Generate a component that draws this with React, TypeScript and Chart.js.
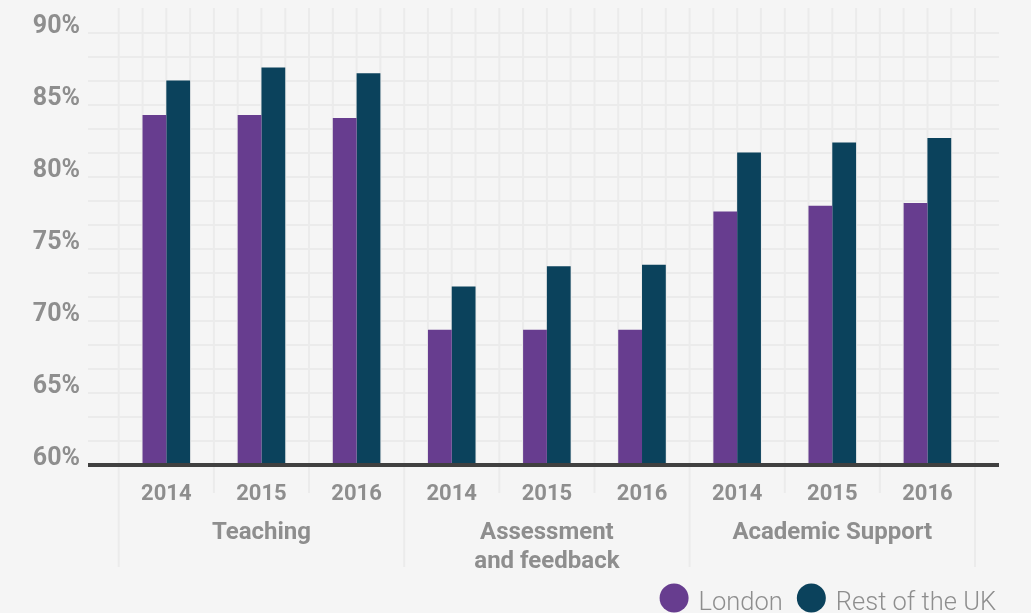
import React, { useEffect, useRef } from 'react';
import { Chart, registerables } from 'chart.js';

Chart.register(...registerables);

// ---- data ----
const years = ['2014', '2015', '2016', '2014', '2015', '2016', '2014', '2015', '2016'];
const groups: (string | string[])[] = ['Teaching', ['Assessment', 'and feedback'], 'Academic Support'];
const seriesNames = ['London', 'Rest of the UK'];
const london = [84.3, 84.3, 84.1, 69.4, 69.4, 69.4, 77.6, 78.0, 78.2];
const restOfUK = [86.7, 87.6, 87.2, 72.4, 73.8, 73.9, 81.7, 82.4, 82.7];
const yMin = 60;
const yTopGrid = 90;
const yGridSteps = 19; // grid every 5/3 % from 60, one step above 90
const yGridStep = 5 / 3;
const yLabelStep = 5;

// ---- styles ----
const BG = '#f5f5f5';
const GRID = '#ebebeb';
const TEXT = '#8e8e8e';
const PURPLE = '#673d8f';
const TEAL = '#0b425c';
const AXIS = '#404040';
const FONT = 'Roboto';

const gridPlugin = {
  id: 'customGrid',
  beforeDraw(chart: any) {
    const { ctx, width, height } = chart;
    ctx.save();
    ctx.fillStyle = BG;
    ctx.fillRect(0, 0, width, height);
    ctx.restore();
  },
  beforeDatasetsDraw(chart: any) {
    const { ctx, chartArea, scales } = chart;
    const y = scales.y;
    const x = scales.x;
    ctx.save();
    ctx.strokeStyle = GRID;
    ctx.lineWidth = 2;
    // horizontal lines
    y.ticks.forEach((t: any) => {
      if (t.value <= yMin + 1e-6 || t.value > yTopGrid + 1e-6) return;
      const py = Math.round(y.getPixelForValue(t.value));
      ctx.beginPath();
      ctx.moveTo(88, py);
      ctx.lineTo(999, py);
      ctx.stroke();
    });
    // vertical lines
    const n = x.getLabels().length;
    const w = x.getPixelForValue(1) - x.getPixelForValue(0);
    const start = x.getPixelForValue(0) - w / 2;
    const baseY = y.getPixelForValue(yMin);
    for (let k = 0; k <= n * 4; k++) {
      const px = start + (k * w) / 4;
      let bottom = baseY;
      if (k % 12 === 0) bottom = 567;
      else if (k % 4 === 0) bottom = 493;
      ctx.beginPath();
      ctx.moveTo(px, chartArea.top - 1);
      ctx.lineTo(px, bottom);
      ctx.stroke();
    }
    ctx.restore();
  },
  afterDatasetsDraw(chart: any) {
    const { ctx, scales } = chart;
    const py = scales.y.getPixelForValue(yMin);
    ctx.save();
    ctx.strokeStyle = AXIS;
    ctx.lineWidth = 4;
    ctx.beginPath();
    ctx.moveTo(88, py);
    ctx.lineTo(999, py);
    ctx.stroke();
    ctx.restore();
  },
  afterDraw(chart: any) {
    const { ctx } = chart;
    ctx.save();
    ctx.font = `300 25.5px ${FONT}`;
    const r = 14.5;
    const gap = 10;
    const itemGap = 14;
    const items = chart.data.datasets.map((ds: any) => ({
      label: ds.label,
      color: ds.backgroundColor,
      w: ctx.measureText(ds.label).width,
    }));
    const total =
      items.reduce((s: number, it: any) => s + 2 * r + gap + it.w, 0) + itemGap * (items.length - 1);
    let cx = 996 - total;
    const cy = 598;
    items.forEach((it: any) => {
      ctx.fillStyle = it.color;
      ctx.beginPath();
      ctx.arc(cx + r, cy, r, 0, Math.PI * 2);
      ctx.fill();
      ctx.fillStyle = TEXT;
      ctx.textBaseline = 'alphabetic';
      ctx.textAlign = 'left';
      ctx.fillText(it.label, cx + 2 * r + gap, 610);
      cx += 2 * r + gap + it.w + itemGap;
    });
    ctx.restore();
  },
};

const zeroPad = (s: any) => {
  s.paddingTop = 0;
  s.paddingBottom = 0;
  s.paddingLeft = 0;
  s.paddingRight = 0;
};

export default function App() {
  const ref = useRef<HTMLCanvasElement | null>(null);

  useEffect(() => {
    if (!ref.current) return;
    const chart = new Chart(ref.current, {
      type: 'bar',
      data: {
        labels: years,
        datasets: [
          { label: seriesNames[0], data: london, backgroundColor: PURPLE, categoryPercentage: 0.5, barPercentage: 1 },
          { label: seriesNames[1], data: restOfUK, backgroundColor: TEAL, categoryPercentage: 0.5, barPercentage: 1 },
        ],
      },
      options: {
        animation: false,
        responsive: true,
        maintainAspectRatio: false,
        layout: { padding: { top: 9, right: 56, bottom: 36, left: 0 } },
        plugins: {
          legend: { display: false },
          tooltip: { enabled: false },
        },
        scales: {
          x: {
            type: 'category',
            position: 'bottom',
            weight: 0,
            offset: true,
            grid: { display: false, drawTicks: false },
            border: { display: false },
            ticks: {
              color: TEXT,
              font: { family: FONT, size: 22, weight: 'bold' },
              padding: 16,
              autoSkip: false,
              maxRotation: 0,
            },
            afterFit: (s: any) => {
              s.height = 54;
              zeroPad(s);
            },
          },
          x2: {
            type: 'category',
            position: 'bottom',
            weight: 1,
            offset: true,
            labels: groups as any,
            grid: { display: false, drawTicks: false },
            border: { display: false },
            ticks: {
              color: TEXT,
              font: { family: FONT, size: 24, weight: 'bold', lineHeight: 1.2 },
              padding: 0,
              autoSkip: false,
              maxRotation: 0,
            },
            afterFit: (s: any) => {
              s.height = 58;
              zeroPad(s);
            },
          },
          y: {
            min: yMin,
            max: yMin + yGridSteps * yGridStep,
            grid: { display: false, drawTicks: false },
            border: { display: false },
            afterBuildTicks: (s: any) => {
              s.ticks = Array.from({ length: yGridSteps + 1 }, (_, i) => ({ value: yMin + i * yGridStep }));
            },
            ticks: {
              color: TEXT,
              font: { family: FONT, size: 25, weight: 'bold' },
              padding: 38.75,
              labelOffset: -6,
              autoSkip: false,
              callback: (v: any) => {
                const q = Number(v) / yLabelStep;
                return Math.abs(q - Math.round(q)) < 1e-6 ? `${Math.round(Number(v))}%` : '';
              },
            },
            afterFit: (s: any) => {
              s.width = 118.75;
              zeroPad(s);
            },
          },
        },
      },
      plugins: [gridPlugin],
    });
    return () => chart.destroy();
  }, []);

  return (
    <div style={{ position: 'fixed', left: 0, top: 0, width: 1031, height: 613, background: BG }}>
      <canvas ref={ref} />
    </div>
  );
}
